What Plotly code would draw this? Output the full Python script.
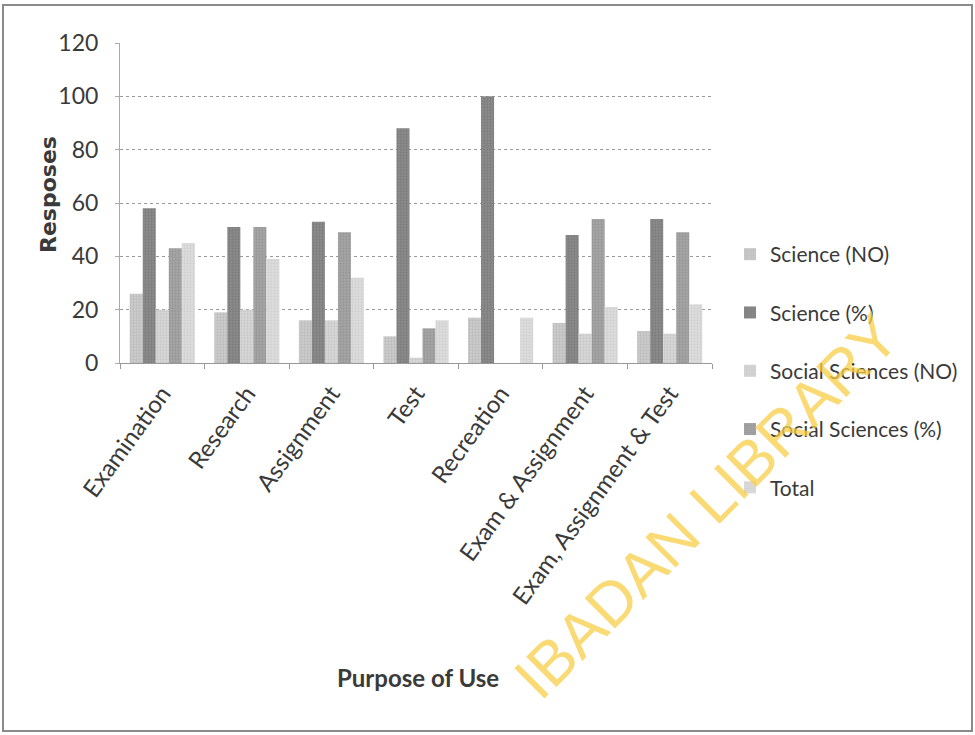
import plotly.graph_objects as go

# Purpose of use categories
categories = ["Examination", "Research", "Assignment", "Test", "Recreation",
              "Exam & Assignment", "Exam, Assignment & Test"]

# Responses per faculty group
science_no = [26, 19, 16, 10, 17, 15, 12]
science_pct = [58, 51, 53, 88, 100, 48, 54]
social_no = [20, 20, 16, 2, 0, 11, 11]
social_pct = [43, 51, 49, 13, 0, 54, 49]
total = [45, 39, 32, 16, 17, 21, 22]

series = [
    ("Science (NO)", science_no, "#cdcdcd", "#a9a9a9"),
    ("Science (%)", science_pct, "#8c8c8c", "#6b6b6b"),
    ("Social Sciences (NO)", social_no, "#d8d8d8", "#b8b8b8"),
    ("Social Sciences (%)", social_pct, "#a6a6a6", "#878787"),
    ("Total", total, "#dedede", "#c2c2c2"),
]

fig = go.Figure()
for i, (name, vals, bg, fg) in enumerate(series):
    fig.add_trace(go.Bar(
        x=categories, y=vals, name=name, legendgroup=f"g{i}",
        marker=dict(color=bg, line=dict(width=0),
                    pattern=dict(shape=".", fgcolor=fg, bgcolor=bg,
                                 size=3, solidity=0.45)),
    ))

font = "Lato, Open Sans, sans-serif"
ink = "#3a3a3a"
L, R, T, B = 120, 263, 43, 372
W, H = 975, 735
pw, ph = W - L - R, H - T - B

def px_x(p):
    return (p - L) / pw

def px_y(p):
    return (H - B - p) / ph

fig.update_layout(
    width=W, height=H,
    margin=dict(l=L, r=R, t=T, b=B, pad=0, autoexpand=False),
    paper_bgcolor="white", plot_bgcolor="white",
    barmode="group", bargap=0.23, bargroupgap=0,
    showlegend=True,
    legend=dict(x=px_x(730), y=px_y(234), xanchor="left", yanchor="top",
                font=dict(family=font, size=21, color=ink),
                tracegroupgap=28, itemwidth=30, bgcolor="rgba(0,0,0,0)"),
    xaxis=dict(
        tickangle=-54, tickfont=dict(family=font, size=24, color=ink),
        ticks="outside", tickson="boundaries", ticklen=5, tickcolor="#999",
        ticklabelstandoff=6,
        showline=True, linecolor="#999", linewidth=1,
    ),
    yaxis=dict(
        range=[0, 120], dtick=20,
        tickfont=dict(family=font, size=23, color=ink),
        showgrid=True, gridcolor="#9a9a9a", griddash="dot", gridwidth=1,
        showline=True, linecolor="#aaa", linewidth=1,
        ticks="outside", ticklen=4, tickcolor="#aaa",
        ticklabelstandoff=12,
        zeroline=False,
    ),
)

# y-axis title
fig.add_annotation(text="<b>Resposes</b>", xref="paper", yref="paper",
                   x=px_x(48), y=px_y(195), xanchor="center", yanchor="middle",
                   textangle=-90, showarrow=False,
                   font=dict(family="DejaVu Sans, sans-serif", size=22, color=ink))

# x-axis title sits well below the rotated category labels
fig.add_annotation(text="<b>Purpose of Use</b>", xref="paper", yref="paper",
                   x=px_x(418), y=px_y(677), xanchor="center", yanchor="middle",
                   showarrow=False,
                   font=dict(family=font, size=24, color=ink))

# library watermark
fig.add_annotation(text="IBADAN LIBRARY", xref="paper", yref="paper",
                   x=px_x(706), y=px_y(506), xanchor="center", yanchor="middle",
                   showarrow=False, textangle=-45,
                   font=dict(family="Liberation Sans, Arial, sans-serif", size=62,
                             color="rgba(248,205,70,0.75)"))

# frame around the figure
fig.add_shape(type="rect", xref="paper", yref="paper",
              x0=px_x(3), x1=px_x(972), y0=px_y(731), y1=px_y(5),
              line=dict(color="#8a8a8a", width=2), layer="below")

fig.write_html("out.html")
